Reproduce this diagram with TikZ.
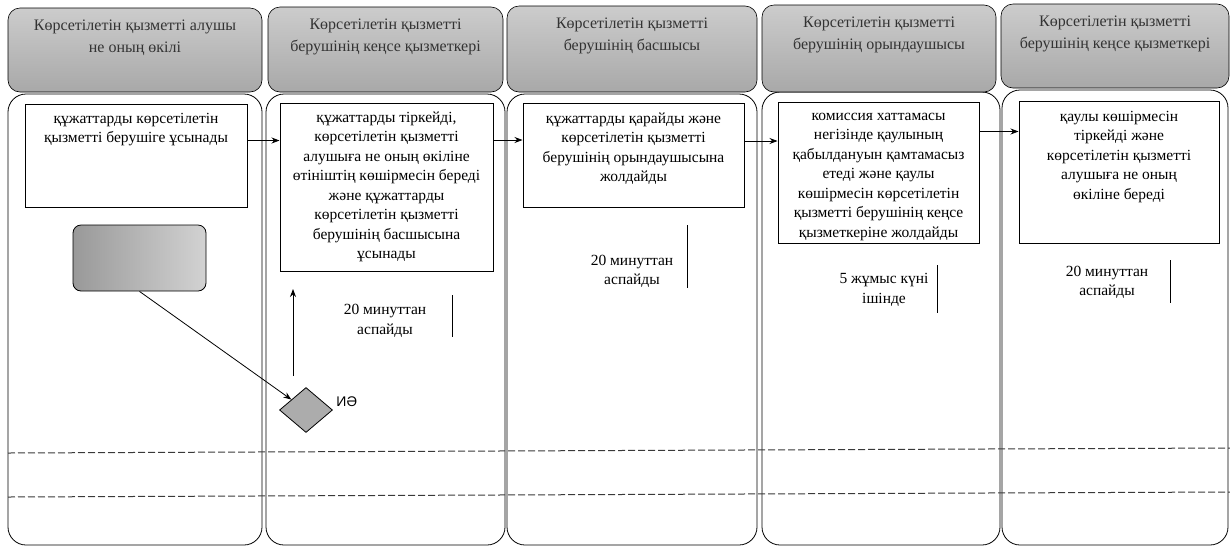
\documentclass[tikz,border=0pt]{standalone}
\usepackage{fontspec}
\setmainfont{Liberation Serif}
\newfontfamily\sansf{Liberation Sans}
\usetikzlibrary{positioning,shapes.geometric,arrows.meta}

\tikzset{
  lane/.style={draw, line width=0.8pt, rounded corners=18pt, inner sep=0pt},
  header/.style={draw, line width=0.6pt, rounded corners=12pt, inner sep=0pt,
    top color=gray!40, bottom color=gray!68},
  stepbox/.style={draw, line width=1pt, inner sep=0pt},
  txt/.style={align=center, inner sep=0pt, font=\fontsize{15.5}{19.5}\selectfont},
  htxt/.style={align=center, inner sep=0pt, font=\fontsize{16}{21.5}\selectfont, text=black!80},
  flow/.style={-{Stealth[length=8pt,width=6pt]}, line width=0.8pt},
  bar/.style={line width=0.9pt},
  sep/.style={line width=1pt, gray!45!black, dash pattern=on 7pt off 3pt},
}

\begin{document}
\begin{tikzpicture}[x=1pt,y=-1pt]
  \useasboundingbox (0,0) rectangle (1230,547);

  % жолақтар
  \node[lane, minimum width=254, minimum height=451] (lane1) at (135,319.5) {};
  \node[lane, minimum width=239, minimum height=451] (lane2) at (385.5,319.5) {};
  \node[lane, minimum width=250, minimum height=451] (lane3) at (632,319.5) {};
  \node[lane, minimum width=238, minimum height=453] (lane4) at (881,318.5) {};
  \node[lane, minimum width=226, minimum height=455] (lane5) at (1115,317.5) {};

  % тақырыптар
  \node[header, minimum width=254, minimum height=84] (hd1) at (135,50) {};
  \node[header, minimum width=235, minimum height=85] (hd2) at (385.5,49.5) {};
  \node[header, minimum width=250, minimum height=86] (hd3) at (632,49) {};
  \node[header, minimum width=234, minimum height=87] (hd4) at (879,48.5) {};
  \node[header, minimum width=228, minimum height=84] (hd5) at (1115,46) {};
  \node[htxt, below=8pt of hd1.north] (hd1t) {\strut Көрсетілетін қызметті алушы\\не оның өкілі};
  \node[htxt, below=8pt of hd2.north] (hd2t) {\strut Көрсетілетін қызметті\\берушінің кеңсе қызметкері};
  \node[htxt, below=8pt of hd3.north] (hd3t) {\strut Көрсетілетін қызметті\\берушінің басшысы};
  \node[htxt, below=8pt of hd4.north] (hd4t) {\strut Көрсетілетін қызметті\\берушінің орындаушысы};
  \node[htxt, below=8pt of hd5.north] (hd5t) {\strut Көрсетілетін қызметті\\берушінің кеңсе қызметкері};

  % қадамдар
  \node[stepbox, minimum width=222, minimum height=103] (b1) at (136,155.5) {};
  \node[stepbox, minimum width=213, minimum height=168] (b2) at (386.5,187) {};
  \node[stepbox, minimum width=221, minimum height=104] (b3) at (633.5,155) {};
  \node[stepbox, minimum width=201, minimum height=141] (b4) at (878.5,172.5) {};
  \node[stepbox, minimum width=200, minimum height=142] (b5) at (1119,172) {};
  \node[txt, below=6pt of b1.north] (b1t) {\strut құжаттарды көрсетілетін\\қызметті берушіге ұсынады};
  \node[txt, below=6pt of b2.north] (b2t) {\strut құжаттарды тіркейді,\\көрсетілетін қызметті\\алушыға не оның өкіліне\\өтініштің көшірмесін береді\\және құжаттарды\\көрсетілетін қызметті\\берушінің басшысына\\ұсынады};
  \node[txt, below=7pt of b3.north] (b3t) {\strut құжаттарды қарайды және\\көрсетілетін қызметті\\берушінің орындаушысына\\жолдайды};
  \node[txt, below=5pt of b4.north] (b4t) {\strut комиссия хаттамасы\\негізінде қаулының\\қабылдануын қамтамасыз\\етеді және қаулы\\көшірмесін көрсетілетін\\қызметті берушінің кеңсе\\қызметкеріне жолдайды};
  \node[txt, below=7pt of b5.north] (b5t) {\strut қаулы көшірмесін\\тіркейді және\\көрсетілетін қызметті\\алушыға не оның\\өкіліне береді};

  % басы және шешім
  \node[draw, line width=0.8pt, rounded corners=8pt, minimum width=133, minimum height=66,
    left color=gray!80, right color=gray!35] (start) at (139.5,258) {};
  \node[diamond, draw, line width=0.8pt, fill=gray!65, minimum width=53, minimum height=45,
    aspect=1.18, inner sep=0pt,
    label={[yshift=8pt, label distance=0pt, font=\sansf\fontsize{14}{16}\selectfont]east:ИӘ}] (dia) at (306,410) {};
  \coordinate (upend) at (293,289);

  % байланыстар
  \draw[flow] ([yshift=15pt]b1.east) -- ([yshift=15pt]b1.east -| b2.west);
  \draw[flow] ([yshift=47pt]b2.east) -- ([yshift=47pt]b2.east -| b3.west);
  \draw[flow] ([yshift=14pt]b3.east) -- ([yshift=14pt]b3.east -| b4.west);
  \draw[flow] ([yshift=41pt]b4.east) -- ([yshift=41pt]b4.east -| b5.west);
  \draw[flow] (start.south) -- (dia);
  \draw[flow] ([shift={(-13,-11)}]dia.north) -- (upend);

  % мерзімдер
  \node[txt] (t2) at (385,321) {20 минуттан\\аспайды};
  \node[txt] (t3) at (632,271.5) {20 минуттан\\аспайды};
  \node[txt] (t4) at (884,290) {5 жұмыс күні\\ішінде};
  \node[txt] (t5) at (1107,282.5) {20 минуттан\\аспайды};
  \draw[bar] (452,295) -- (452,337);
  \draw[bar] (687,225) -- (687,288);
  \draw[bar] (937,265) -- (937,313);
  \draw[bar] (1170,260) -- (1170,303);

  % үзік сызықтар
  \draw[sep] (8,453) -- (1230,448);
  \draw[sep] (8,497) -- (1230,492);
\end{tikzpicture}
\end{document}
